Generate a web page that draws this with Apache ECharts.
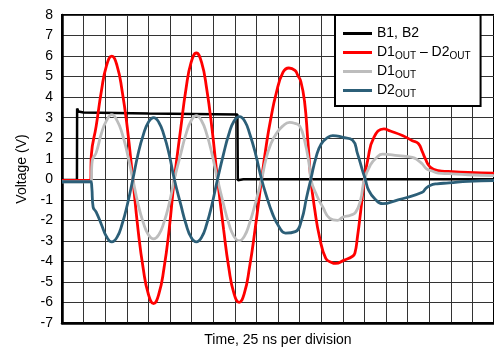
<!DOCTYPE html>
<html>
<head>
<meta charset="utf-8">
<script src="https://cdn.jsdelivr.net/npm/echarts@6/dist/echarts.min.js"></script>
<style>
  html, body { margin: 0; padding: 0; background: #fff; }
  #chart { width: 494px; height: 352px; }
</style>
</head>
<body>
<div id="chart"></div>
<script>
// time in ns (25 ns per division), voltage in V
const seriesNames = ['B1, B2', 'D1OUT – D2OUT', 'D1OUT', 'D2OUT']

const b12 = [
  [0, -0.03], [17.3, -0.03], [17.5, 3.45], [19, 3.3], [25, 3.25], [100, 3.2],
  [203, 3.15], [203.5, -0.05], [210, 0.0], [300, 0.0], [500, 0.0]
]

const diff = [
  [0, -0.05], [33, -0.05], [34, 1.2], [39.6, 2.6], [45.6, 4.3], [51.6, 5.55], [57.6, 6.0],
  [63.6, 5.55], [69.6, 4.3], [75.6, 2.5], [82, 0],
  [88, -2.45], [94, -4.35], [100, -5.6], [106, -6.05], [112, -5.6], [118, -4.35], [124, -2.45], [130, 0],
  [137.5, 2.5], [143.5, 4.4], [149.5, 5.7], [155.5, 6.15], [161.5, 5.7], [167.5, 4.4], [173.5, 2.5], [180, 0],
  [187, -2.43], [193, -4.3], [199, -5.56], [205, -6.0], [211, -5.56], [217, -4.3], [223.5, -2.43], [231, 0],
  [237.3, 1.9], [241.9, 3.0], [247.7, 4.15], [255.7, 5.2], [262.6, 5.42], [269.6, 5.3], [273, 5.05],
  [276.5, 4.75], [280.7, 3.8], [284.5, 1.9], [288, 0],
  [292.6, -1.5], [298, -2.8], [305.3, -3.85], [312, -4.05], [316.8, -4.1], [326, -3.95], [336.4, -3.75],
  [339, -3.6], [342, -2.8], [345.6, -1.6], [350, 0],
  [353.7, 0.91], [361, 2.04], [372.6, 2.45], [380, 2.35], [394, 2.13], [405.5, 1.88], [412.4, 1.74],
  [417, 1.35], [420.5, 1.0], [426, 0.6], [435.5, 0.42], [447, 0.38], [470, 0.33], [500, 0.3]
]

const d1out = [
  [0, -0.12], [33.4, -0.12], [35, 0.9], [39.6, 1.3], [45.6, 2.23], [51.6, 2.87], [57.6, 3.15],
  [63.6, 2.87], [69.6, 2.23], [75.6, 1.26], [82, 0],
  [88, -1.2], [94, -2.1], [100, -2.7], [106, -2.9], [112, -2.7], [118, -2.1], [124, -1.2], [130, 0],
  [137.5, 1.25], [143.5, 2.2], [149.5, 2.85], [155.5, 3.1], [161.5, 2.85], [167.5, 2.2], [173.5, 1.25], [180, 0],
  [187, -1.22], [193, -2.15], [199, -2.78], [205, -3.0], [211, -2.78], [217, -2.15], [223.5, -1.22], [231, 0],
  [236.2, 1.0], [241.9, 1.74], [247.7, 2.2], [255.7, 2.6], [263.5, 2.77], [269.6, 2.72], [275, 2.6],
  [280.7, 1.9], [286.5, 0.6], [288, 0],
  [295, -0.8], [301.8, -1.35], [309.9, -1.9], [319, -2.0], [324.9, -1.85], [334, -1.75], [340, -1.6],
  [345.6, -1.0], [350, 0],
  [357, 0.7], [364, 1.05], [371, 1.22], [389, 1.15], [405.5, 1.07], [412.4, 0.91], [417, 0.75],
  [421.6, 0.52], [428.5, 0.4], [435.5, 0.3], [448, 0.27], [470, 0.22], [500, 0.18]
]

const d2out = [
  [0, -0.12], [33.4, -0.12], [34.5, -0.4], [36, -1.35], [39.6, -1.6], [45.6, -2.2], [51.6, -2.8], [57.6, -3.05],
  [63.6, -2.83], [69.6, -2.18], [75.6, -1.24], [82, 0],
  [88, 1.22], [94, 2.15], [100, 2.78], [106, 3.0], [112, 2.78], [118, 2.15], [124, 1.22], [130, 0],
  [137.5, -1.24], [143.5, -2.18], [149.5, -2.83], [155.5, -3.05], [161.5, -2.83], [167.5, -2.18], [173.5, -1.24], [180, 0],
  [187, 1.24], [193, 2.18], [199, 2.83], [205.5, 3.05], [211.5, 2.83], [217.5, 2.18], [224, 1.24], [231, 0],
  [237.3, -0.9], [243.4, -1.65], [251, -2.3], [258.7, -2.62], [270, -2.55], [277.2, -2.0], [283, -0.9], [288, 0],
  [294, 1.07], [300, 1.72], [307.7, 2.04], [313.4, 2.13], [325, 2.04], [336.4, 1.9], [342, 1.25],
  [348, 0.4], [351, 0],
  [355, -0.54], [362, -0.95], [371, -1.19], [389, -1.0], [394, -0.95], [417, -0.63], [421, -0.45],
  [426, -0.3], [434, -0.22], [448, -0.18], [470, -0.1], [500, -0.06]
]

const colors = ['#000000', '#ff0000', '#bdbdbd', '#2c5f78']

const chart = echarts.init(document.getElementById('chart'))

// subscripts via rich text; every row gets an s token so rows have equal height
const legendLabels = {
  'B1, B2': '{m|B1, B2}{s| }',
  'D1OUT – D2OUT': '{m|D1}{s|OUT}{m| – D2}{s|OUT}',
  'D1OUT': '{m|D1}{s|OUT}',
  'D2OUT': '{m|D2}{s|OUT}'
}

const option = {
  animation: false,
  color: colors,
  textStyle: { fontFamily: 'Liberation Sans', color: '#000' },
  grid: {
    left: 62,
    right: -2,
    top: 15,
    bottom: 29,
    show: true,
    borderColor: '#000',
    borderWidth: 2
  },
  legend: {
    data: seriesNames,
    left: 335,
    top: 15,
    orient: 'vertical',
    icon: 'path://M0,0H29V3H0Z',
    itemWidth: 29,
    itemHeight: 14,
    itemGap: 2,
    padding: [10, 10, 7, 8],
    backgroundColor: '#fff',
    borderColor: '#000',
    borderWidth: 2,
    borderRadius: 0,
    formatter: function(name) {
      return legendLabels[name]
    },
    textStyle: {
      rich: {
        m: { fontSize: 14, fontFamily: 'Liberation Sans', color: '#000', lineHeight: 14 },
        s: { fontSize: 10, fontFamily: 'Liberation Sans', color: '#000', padding: [7, 0, 0, 0], lineHeight: 9 }
      }
    }
  },
  xAxis: {
    type: 'value',
    min: 0,
    max: 500,
    interval: 25,
    name: 'Time, 25 ns per division',
    nameLocation: 'middle',
    nameGap: 10,
    nameTextStyle: { fontSize: 14, color: '#000', verticalAlign: 'top' },
    axisLine: { onZero: false, lineStyle: { color: '#000', width: 2.5 } },
    axisTick: { show: false },
    axisLabel: { show: false },
    splitLine: { show: true, lineStyle: { color: '#333', width: 1 } }
  },
  yAxis: {
    type: 'value',
    min: -7,
    max: 8,
    interval: 1,
    name: 'Voltage (V)',
    nameLocation: 'middle',
    nameGap: 33,
    nameTextStyle: { fontSize: 14, color: '#000' },
    axisLine: { show: true, lineStyle: { color: '#000', width: 2.5 } },
    axisTick: { show: false },
    axisLabel: { fontSize: 14, color: '#000', margin: 9 },
    splitLine: { show: true, lineStyle: { color: '#333', width: 1 } }
  },
  series: [
    { name: seriesNames[0], type: 'line', data: b12, symbol: 'none', lineStyle: { width: 2.5 } },
    { name: seriesNames[1], type: 'line', data: diff, symbol: 'none', smooth: 0.5, lineStyle: { width: 2.8 } },
    { name: seriesNames[2], type: 'line', data: d1out, symbol: 'none', smooth: 0.5, lineStyle: { width: 2.8 } },
    { name: seriesNames[3], type: 'line', data: d2out, symbol: 'none', smooth: 0.5, lineStyle: { width: 2.8 } }
  ]
}

chart.setOption(option)
</script>
</body>
</html>
